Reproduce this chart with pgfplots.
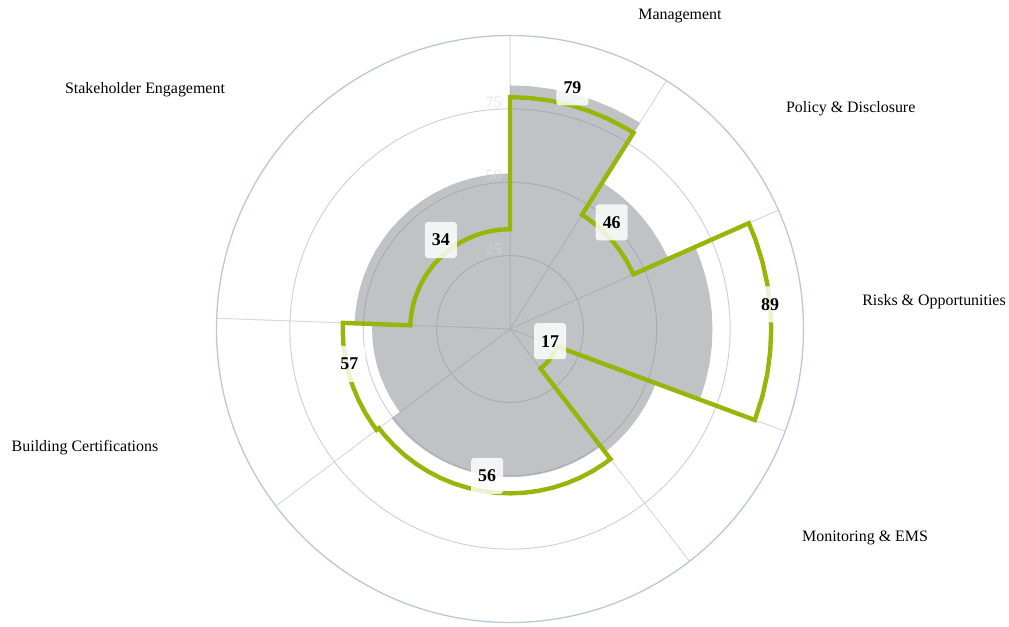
\documentclass[border=0pt]{standalone}
\usepackage{fontspec}
\setmainfont{Liberation Serif}
\usepackage{pgfplots}
\usepackage{pgfplotstable}
\pgfplotsset{compat=1.18}
\usepgfplotslibrary{polar}

\definecolor{score}{RGB}{152,181,10}
\definecolor{bench}{RGB}{135,141,146}
\definecolor{spoke}{RGB}{214,218,224}
\definecolor{ring}{RGB}{206,211,218}
\definecolor{rim}{RGB}{184,200,220}
\definecolor{faint}{RGB}{217,217,217}

% angle in pgf convention (0 = east, ccw), value per sector
% sectors: Management, Policy & Disclosure, Risks & Opportunities,
% Monitoring & EMS, Performance Indicators, Building Certifications,
% Stakeholder Engagement
\pgfplotstableread{
phi bench score
90 83 79
85 83 79
80 83 79
75 83 79
70 83 79
65 83 79
60 83 79
57.8 83 79
57.8 59 46
55 59 46
50 59 46
45 59 46
40 59 46
35 59 46
30 59 46
25 59 46
23.9 59 46
23.9 69 89
20 69 89
15 69 89
10 69 89
5 69 89
0 69 89
-5 69 89
-10 69 89
-15 69 89
-20.4 69 89
-20.4 53 17
-25 53 17
-30 53 17
-35 53 17
-40 53 17
-45 53 17
-50 53 17
-52.3 53 17
-52.3 50.5 56
-55 50.5 56
-60 50.5 56
-65 50.5 56
-70 50.5 56
-75 50.5 56
-80 50.5 56
-85 50.5 56
-90 50.5 56
-95 50.5 56
-100 50.5 56
-105 50.5 56
-110 50.5 56
-115 50.5 56
-120 50.5 56
-125 50.5 56
-130 50.5 56
-135 50.5 56
-140 50.5 56
-142.9 50.5 56
-142.9 47 57
-145 47 57
-150 47 57
-155 47 57
-160 47 57
-165 47 57
-170 47 57
-175 47 57
-180 47 57
-182.1 47 57
-182.1 53 34
-185 53 34
-190 53 34
-195 53 34
-200 53 34
-205 53 34
-210 53 34
-215 53 34
-220 53 34
-225 53 34
-230 53 34
-235 53 34
-240 53 34
-245 53 34
-250 53 34
-255 53 34
-260 53 34
-265 53 34
-270 53 34
}\sectors

\begin{document}
\begin{tikzpicture}
\useasboundingbox (0,0) rectangle (1009bp,627bp);
\begin{polaraxis}[
  at={(510bp,298bp)}, anchor=center,
  width=587bp, height=587bp, scale only axis,
  xmin=0, xmax=360, ymin=0, ymax=100,
  enlargelimits=false,
  xtick={90,57.8,23.9,339.6,307.7,217.1,177.9},
  ytick={25,50,75},
  xticklabel=\empty, yticklabel=\empty,
  major tick length=0pt,
  grid=major,
  x grid style={draw=spoke, line width=1bp},
  y grid style={draw=ring, line width=1bp},
  x axis line style={draw=rim, line width=1.3bp},
  y axis line style={draw=none},
  clip=false,
]
\addplot[draw=none, fill=bench, fill opacity=0.53, mark=none]
  table[x=phi, y=bench] {\sectors} -- cycle;
\addplot[draw=score, line width=4.4bp, line join=miter, mark=none]
  table[x=phi, y=score] {\sectors} -- cycle;

\addplot[draw=none, mark=none,
  nodes near coords, point meta=explicit symbolic,
  every node near coord/.append style={anchor=center,
    fill=white, fill opacity=0.82, text opacity=1,
    rounded corners=3bp, minimum width=32bp, minimum height=36bp, inner sep=0pt,
    font=\bfseries\fontsize{18}{20}\selectfont, text=black}]
  coordinates {
    (75.49,85.0) [79]
    (46.32,50.19) [46]
    (5.43,89.0) [89]
    (-16.88,14.31) [17]
    (261.17,50.63) [56]
    (192.22,56.01) [57]
    (127.87,38.4) [34]
  };

\begin{scope}[font=\fontsize{16}{19}\selectfont]
\node[anchor=base] at (axis cs:61.26,120.46) {Management};
\node[anchor=base] at (axis cs:32.40,137.5) {Policy \& Disclosure};
\node[anchor=base] at (axis cs:3.17,144.7) {Risks \& Opportunities};
\node[anchor=base] at (axis cs:-30.91,141.0) {Monitoring \& EMS};
\node[anchor=base] at (axis cs:196.02,150.65) {Building Certifications};
\node[anchor=base] at (axis cs:147.15,148.03) {Stakeholder Engagement};
\node[anchor=base east, text=faint, text opacity=0.66] at (axis cs:91.29,75.66) {75};
\node[anchor=base east, text=faint, text opacity=0.66] at (axis cs:91.93,50.63) {50};
\node[anchor=base east, text=faint, text opacity=0.66] at (axis cs:93.81,25.61) {25};
\end{scope}
\end{polaraxis}
\end{tikzpicture}
\end{document}
